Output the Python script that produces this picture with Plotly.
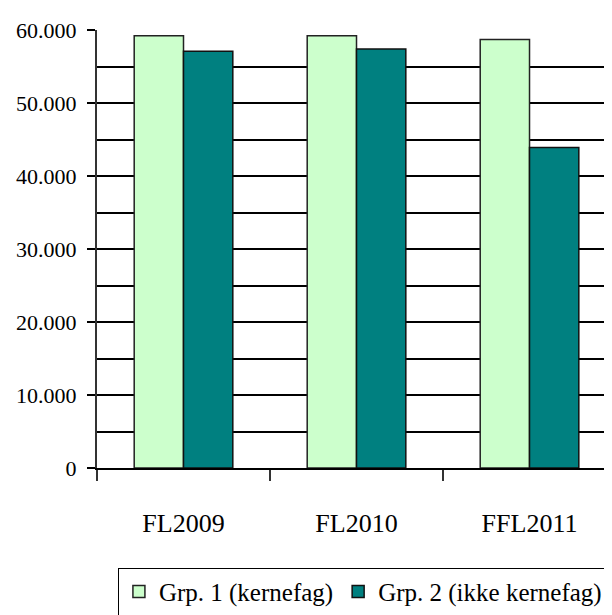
import plotly.graph_objects as go

categories = ["FL2009", "FL2010", "FFL2011"]
grp1_values = [59200, 59200, 58700]
grp2_values = [57100, 57400, 43900]
series_names = ["Grp. 1 (kernefag)", "Grp. 2 (ikke kernefag)"]
y_tickvals = [0, 10000, 20000, 30000, 40000, 50000, 60000]
y_ticktext = ["0", "10.000", "20.000", "30.000", "40.000", "50.000", "60.000"]

FONT = "Liberation Serif"

fig = go.Figure()
fig.add_trace(go.Bar(x=categories, y=grp1_values, name=series_names[0],
                     marker=dict(color="#ccffcc", line=dict(color="#222222", width=1.5))))
fig.add_trace(go.Bar(x=categories, y=grp2_values, name=series_names[1],
                     marker=dict(color="#008080", line=dict(color="#111111", width=1.5))))

fig.update_layout(
    width=612, height=615,
    margin=dict(l=89, r=0, t=22, b=155, autoexpand=False),
    paper_bgcolor="white", plot_bgcolor="white",
    barmode="group", bargap=0.43, bargroupgap=0,
    font=dict(family=FONT, size=26, color="black"),
    showlegend=True,
    legend=dict(orientation="h", x=0.040, y=-0.228, xanchor="left", yanchor="top",
                bordercolor="black", borderwidth=1, font=dict(family=FONT, size=25),
                itemwidth=30, tracegroupgap=0),
    xaxis=dict(range=[-0.5, 2.523], showline=True, linecolor="black", linewidth=2,
               ticks="outside", tickson="boundaries", ticklen=11, tickwidth=1.5,
               tickcolor="#333333", showgrid=False, ticklabelstandoff=31,
               automargin=False, tickfont=dict(family=FONT, size=26)),
    yaxis=dict(range=[0, 60000], tickvals=y_tickvals, ticktext=y_ticktext,
               showline=True, linecolor="#333333", linewidth=2,
               ticks="outside", ticklen=8, tickwidth=1.5, tickcolor="black",
               showgrid=True, gridcolor="black", gridwidth=1.5,
               minor=dict(dtick=5000, showgrid=True, gridcolor="black", gridwidth=1.5),
               zeroline=False, ticklabelstandoff=6, automargin=False,
               tickfont=dict(family=FONT, size=22)),
)

fig.write_html("out.html")
